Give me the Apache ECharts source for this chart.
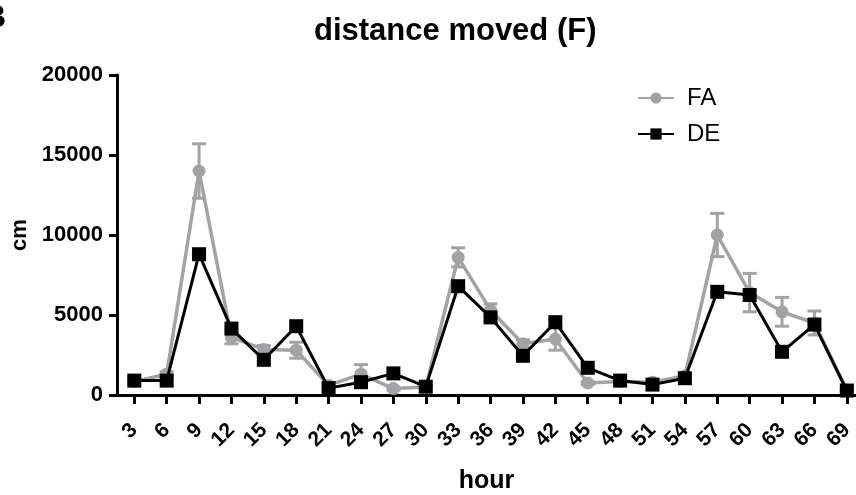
<!DOCTYPE html>
<html lang="en">
<head>
    <meta charset="UTF-8">
    <title>distance moved (F)</title>
    <script src="https://cdn.jsdelivr.net/npm/echarts@6/dist/echarts.min.js"></script>
    <style>
        html, body { margin: 0; padding: 0; background: #fff; }
        #chart { width: 856px; height: 495px; }
    </style>
</head>
<body>
    <div id="chart"></div>
    <script type="text/javascript">
        // hours after start
        var hours = [3, 6, 9, 12, 15, 18, 21, 24, 27, 30, 33, 36, 39, 42, 45, 48, 51, 54, 57, 60, 63, 66, 69];
        // FA group mean and SEM (cm)
        var faMean = [850, 1300, 14000, 3600, 2850, 2800, 600, 1300, 400, 500, 8600, 5300, 3200, 3500, 750, 850, 800, 1200, 10000, 6400, 5200, 4500, 300];
        var faSem = [100, 150, 1700, 400, 250, 500, 100, 600, 100, 100, 600, 400, 250, 700, 100, 100, 100, 100, 1350, 1200, 900, 750, 50];
        // DE group mean (cm)
        var deMean = [900, 900, 8800, 4150, 2200, 4300, 430, 800, 1350, 520, 6800, 4850, 2450, 4550, 1700, 900, 650, 1050, 6450, 6250, 2700, 4400, 280];
        var yTicks = [0, 5000, 10000, 15000, 20000];

        var font = '"Liberation Sans", Arial, sans-serif';
        var gray = '#a3a3a5';

        var faData = hours.map(function (h, i) { return [h, faMean[i]]; });
        var deData = hours.map(function (h, i) { return [h, deMean[i]]; });
        var errData = hours.map(function (h, i) { return [h, faMean[i] - faSem[i], faMean[i] + faSem[i]]; });

        var myChart = echarts.init(document.getElementById('chart'));

        var option = {
            animation: false,
            backgroundColor: '#fff',
            title: {
                text: 'distance moved (F)',
                left: 309,
                top: 11,
                textStyle: { fontFamily: font, fontSize: 31, fontWeight: 'bold', color: '#000' }
            },
            graphic: [{
                type: 'text',
                left: -17,
                top: 2,
                style: { text: 'B', font: 'bold 32px ' + font, fill: '#000' }
            }],
            legend: {
                orient: 'vertical',
                left: 632,
                top: 81,
                itemWidth: 36,
                itemHeight: 14,
                itemGap: 12,
                data: ['FA', 'DE'],
                textStyle: { fontFamily: font, fontSize: 24, color: '#000', padding: [0, 0, 0, 8] }
            },
            grid: { left: 117, right: 0, top: 75, bottom: 100, outerBoundsMode: 'none' },
            xAxis: {
                type: 'value',
                min: 1.4,
                max: 69.85,
                name: 'hour',
                nameLocation: 'middle',
                nameGap: 74,
                nameTextStyle: { fontFamily: font, fontSize: 25, fontWeight: 'bold', color: '#000' },
                axisLine: { lineStyle: { color: '#000', width: 3 } },
                axisTick: { customValues: hours, length: 9, lineStyle: { color: '#000', width: 3 } },
                axisLabel: {
                    customValues: hours,
                    rotate: 45,
                    margin: 32,
                    fontFamily: font,
                    fontSize: 21,
                    fontWeight: 'bold',
                    color: '#000'
                },
                splitLine: { show: false }
            },
            yAxis: {
                type: 'value',
                min: yTicks[0],
                max: yTicks[yTicks.length - 1],
                interval: 5000,
                name: 'cm',
                nameLocation: 'middle',
                nameGap: 86,
                nameTextStyle: { fontFamily: font, fontSize: 22, fontWeight: 'bold', color: '#000' },
                axisLine: { show: true, lineStyle: { color: '#000', width: 3 } },
                axisTick: { show: true, length: 8, lineStyle: { color: '#000', width: 3 } },
                axisLabel: {
                    margin: 14,
                    fontFamily: font,
                    fontSize: 22,
                    fontWeight: 'bold',
                    color: '#000',
                    formatter: function (v) { return String(v); }
                },
                splitLine: { show: false }
            },
            series: [{
                name: 'FA err',
                type: 'custom',
                z: 2,
                renderItem: function (params, api) {
                    var lo = api.coord([api.value(0), api.value(1)]);
                    var hi = api.coord([api.value(0), api.value(2)]);
                    var w = 7;
                    var st = { stroke: gray, lineWidth: 3 };
                    return {
                        type: 'group',
                        children: [
                            { type: 'line', shape: { x1: lo[0], y1: lo[1], x2: hi[0], y2: hi[1] }, style: st },
                            { type: 'line', shape: { x1: hi[0] - w, y1: hi[1], x2: hi[0] + w, y2: hi[1] }, style: st },
                            { type: 'line', shape: { x1: lo[0] - w, y1: lo[1], x2: lo[0] + w, y2: lo[1] }, style: st }
                        ]
                    };
                },
                data: errData
            }, {
                name: 'FA',
                type: 'line',
                z: 3,
                data: faData,
                symbol: 'circle',
                symbolSize: 13,
                itemStyle: { color: gray },
                lineStyle: { color: gray, width: 3.5 }
            }, {
                name: 'DE',
                type: 'line',
                z: 4,
                data: deData,
                symbol: 'rect',
                symbolSize: 14,
                itemStyle: { color: '#000' },
                lineStyle: { color: '#000', width: 3 }
            }]
        };

        myChart.setOption(option);
    </script>
</body>
</html>
